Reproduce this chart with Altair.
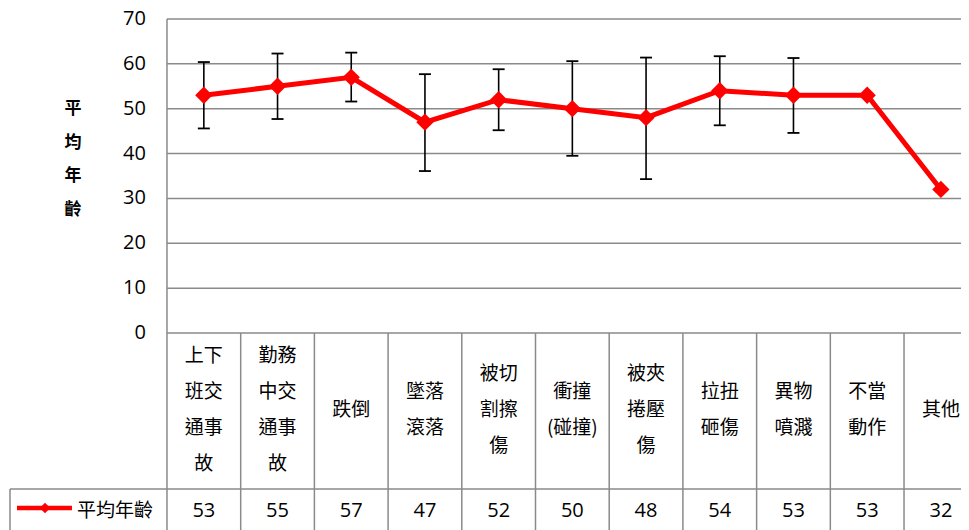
import altair as alt
import pandas as pd

# ---------------- data ----------------
categories = ["上下班交通事故", "勤務中交通事故", "跌倒", "墜落滾落", "被切割擦傷",
              "衝撞(碰撞)", "被夾捲壓傷", "拉扭砸傷", "異物噴濺", "不當動作", "其他"]
cat_labels = ["上下\n班交\n通事\n故", "勤務\n中交\n通事\n故", "跌倒", "墜落\n滾落",
              "被切\n割擦\n傷", "衝撞\n(碰撞)", "被夾\n捲壓\n傷", "拉扭\n砸傷",
              "異物\n噴濺", "不當\n動作", "其他"]
mean_age = [53, 55, 57, 47, 52, 50, 48, 54, 53, 53, 32]
err_upper = [60.4, 62.3, 62.5, 57.7, 58.8, 60.6, 61.4, 61.7, 61.3, None, None]
err_lower = [45.6, 47.7, 51.6, 36.1, 45.2, 39.5, 34.3, 46.3, 44.6, None, None]
y_ticks = [0, 10, 20, 30, 40, 50, 60, 70]
series_name = "平均年齡"
y_title = "平均年齡"

# ---------------- layout constants (in scale units) ----------------
N = len(categories)
WIDTH, HEIGHT = 953, 522
X_MIN, X_MAX = -2.157, 10.773      # column units (one column = 1)
Y_MIN, Y_MAX = -43.92, 72.45       # value units
PX_PER_UNIT = HEIGHT / (Y_MAX - Y_MIN)
ROW1_BOTTOM = -34.78               # bottom of category row of the data table
ROW1_MID = -17.2
ROW2_MID = -39.7
LEGEND_LEFT = -2.13
TABLE_BOTTOM = Y_MIN
CAT_LH = 36
TITLE_LH = 33.5

RED = "#ff0000"
GRID = "#8a8a8a"
CJK = "Noto Sans CJK TC"
NUM = "Open Sans"

xs = alt.Scale(domain=[X_MIN, X_MAX], nice=False, zero=False)
ys = alt.Scale(domain=[Y_MIN, Y_MAX], nice=False, zero=False)

n_lines = [len(s.split("\n")) for s in cat_labels]
df = pd.DataFrame({
    "cat": categories,
    "label": cat_labels,
    "pos": [i + 0.5 for i in range(N)],
    "age": mean_age,
    "hi": err_upper,
    "lo": err_lower,
    "age_txt": [str(v) for v in mean_age],
    # first-line position so that the text block is centred in the cell
    "lab_y": [ROW1_MID + (n - 1) * CAT_LH / 2 / PX_PER_UNIT for n in n_lines],
    "val_y": ROW2_MID,
})
df_err = df.dropna(subset=["hi", "lo"])

X = lambda f: alt.X(f, scale=xs, axis=None)
Y = lambda f: alt.Y(f, scale=ys, axis=None)

# gridlines (horizontal)
grid_df = pd.DataFrame({"y": y_ticks, "x": 0.0, "x2": float(N)})
grid = alt.Chart(grid_df).mark_rule(color=GRID, strokeWidth=1.5, clip=True).encode(
    x=X("x:Q"), x2="x2", y=Y("y:Q"))

# table / frame lines
v_lines = pd.DataFrame({
    "x": [0.0] + [float(i) for i in range(1, N + 1)] + [LEGEND_LEFT],
    "y": [y_ticks[-1]] + [0.0] * N + [ROW1_BOTTOM],
    "y2": [TABLE_BOTTOM] * (N + 2),
})
vlines = alt.Chart(v_lines).mark_rule(color=GRID, strokeWidth=1.5, clip=True).encode(
    x=X("x:Q"), y=Y("y:Q"), y2="y2")
h_lines = pd.DataFrame({"y": [ROW1_BOTTOM], "x": [LEGEND_LEFT], "x2": [float(N)]})
hlines = alt.Chart(h_lines).mark_rule(color=GRID, strokeWidth=1.5, clip=True).encode(
    x=X("x:Q"), x2="x2", y=Y("y:Q"))

# category labels
cat_text = alt.Chart(df).mark_text(
    font=CJK, fontSize=19, lineBreak="\n", lineHeight=CAT_LH, baseline="middle",
    align="center", color="#000000", clip=True
).encode(x=X("pos:Q"), y=Y("lab_y:Q"), text="label:N")

# value labels
val_text = alt.Chart(df).mark_text(
    font=NUM, fontSize=20, baseline="middle", align="center", color="#000000", clip=True
).encode(x=X("pos:Q"), y=Y("val_y:Q"), text="age_txt:N")

# legend key in the table
leg_line_df = pd.DataFrame({"x": [-2.035], "x2": [-1.289], "y": [-39.0]})
leg_line = alt.Chart(leg_line_df).mark_rule(color=RED, strokeWidth=4.5, clip=True).encode(
    x=X("x:Q"), x2="x2", y=Y("y:Q"))
leg_pt_df = pd.DataFrame({"x": [-1.655], "y": [-39.0]})
leg_pt = alt.Chart(leg_pt_df).mark_point(
    shape="diamond", filled=True, size=110, color=RED, opacity=1, clip=True
).encode(x=X("x:Q"), y=Y("y:Q"))
leg_txt_df = pd.DataFrame({"x": [-1.221], "y": [ROW2_MID], "t": [series_name]})
leg_txt = alt.Chart(leg_txt_df).mark_text(
    font=CJK, fontSize=19, align="left", baseline="middle", color="#000000", clip=True
).encode(x=X("x:Q"), y=Y("y:Q"), text="t:N")

# y tick labels
tick_df = pd.DataFrame({"y": y_ticks, "x": -0.285, "t": [str(v) for v in y_ticks]})
tick_txt = alt.Chart(tick_df).mark_text(
    font=NUM, fontSize=20, align="right", baseline="middle", color="#000000", clip=True
).encode(x=X("x:Q"), y=Y("y:Q"), text="t:N")

# y axis title (stacked vertically), centred at 38.7
title_mid = 38.7
title_first = title_mid + (len(y_title) - 1) * TITLE_LH / 2 / PX_PER_UNIT
title_df = pd.DataFrame({"x": [-1.275], "y": [title_first], "t": ["\n".join(list(y_title))]})
title_txt = alt.Chart(title_df).mark_text(
    font=CJK, fontSize=17, fontWeight="bold", lineBreak="\n", lineHeight=TITLE_LH,
    align="center", baseline="middle", color="#000000", clip=True
).encode(x=X("x:Q"), y=Y("y:Q"), text="t:N")

# error bars
err_rule = alt.Chart(df_err).mark_rule(color="#000000", strokeWidth=1.6, clip=True).encode(
    x=X("pos:Q"), y=Y("lo:Q"), y2="hi")
err_hi = alt.Chart(df_err).mark_tick(
    orient="horizontal", color="#000000", size=12, thickness=1.8, opacity=1, clip=True
).encode(x=X("pos:Q"), y=Y("hi:Q"))
err_lo = alt.Chart(df_err).mark_tick(
    orient="horizontal", color="#000000", size=12, thickness=1.8, opacity=1, clip=True
).encode(x=X("pos:Q"), y=Y("lo:Q"))

# the series
line = alt.Chart(df).mark_line(color=RED, strokeWidth=5, clip=True).encode(
    x=X("pos:Q"), y=Y("age:Q"))
pts = alt.Chart(df).mark_point(
    shape="diamond", filled=True, size=300, color=RED, opacity=1, clip=True
).encode(x=X("pos:Q"), y=Y("age:Q"))

chart = alt.layer(
    grid, vlines, hlines, cat_text, val_text, leg_line, leg_pt, leg_txt,
    tick_txt, title_txt, err_rule, err_hi, err_lo, line, pts
).properties(
    width=WIDTH, height=HEIGHT, padding=0,
    autosize=alt.AutoSizeParams(type="none"),
    background="white",
).configure_view(stroke=None)

chart.save("out.html", embed_options={"renderer": "svg", "actions": False})
